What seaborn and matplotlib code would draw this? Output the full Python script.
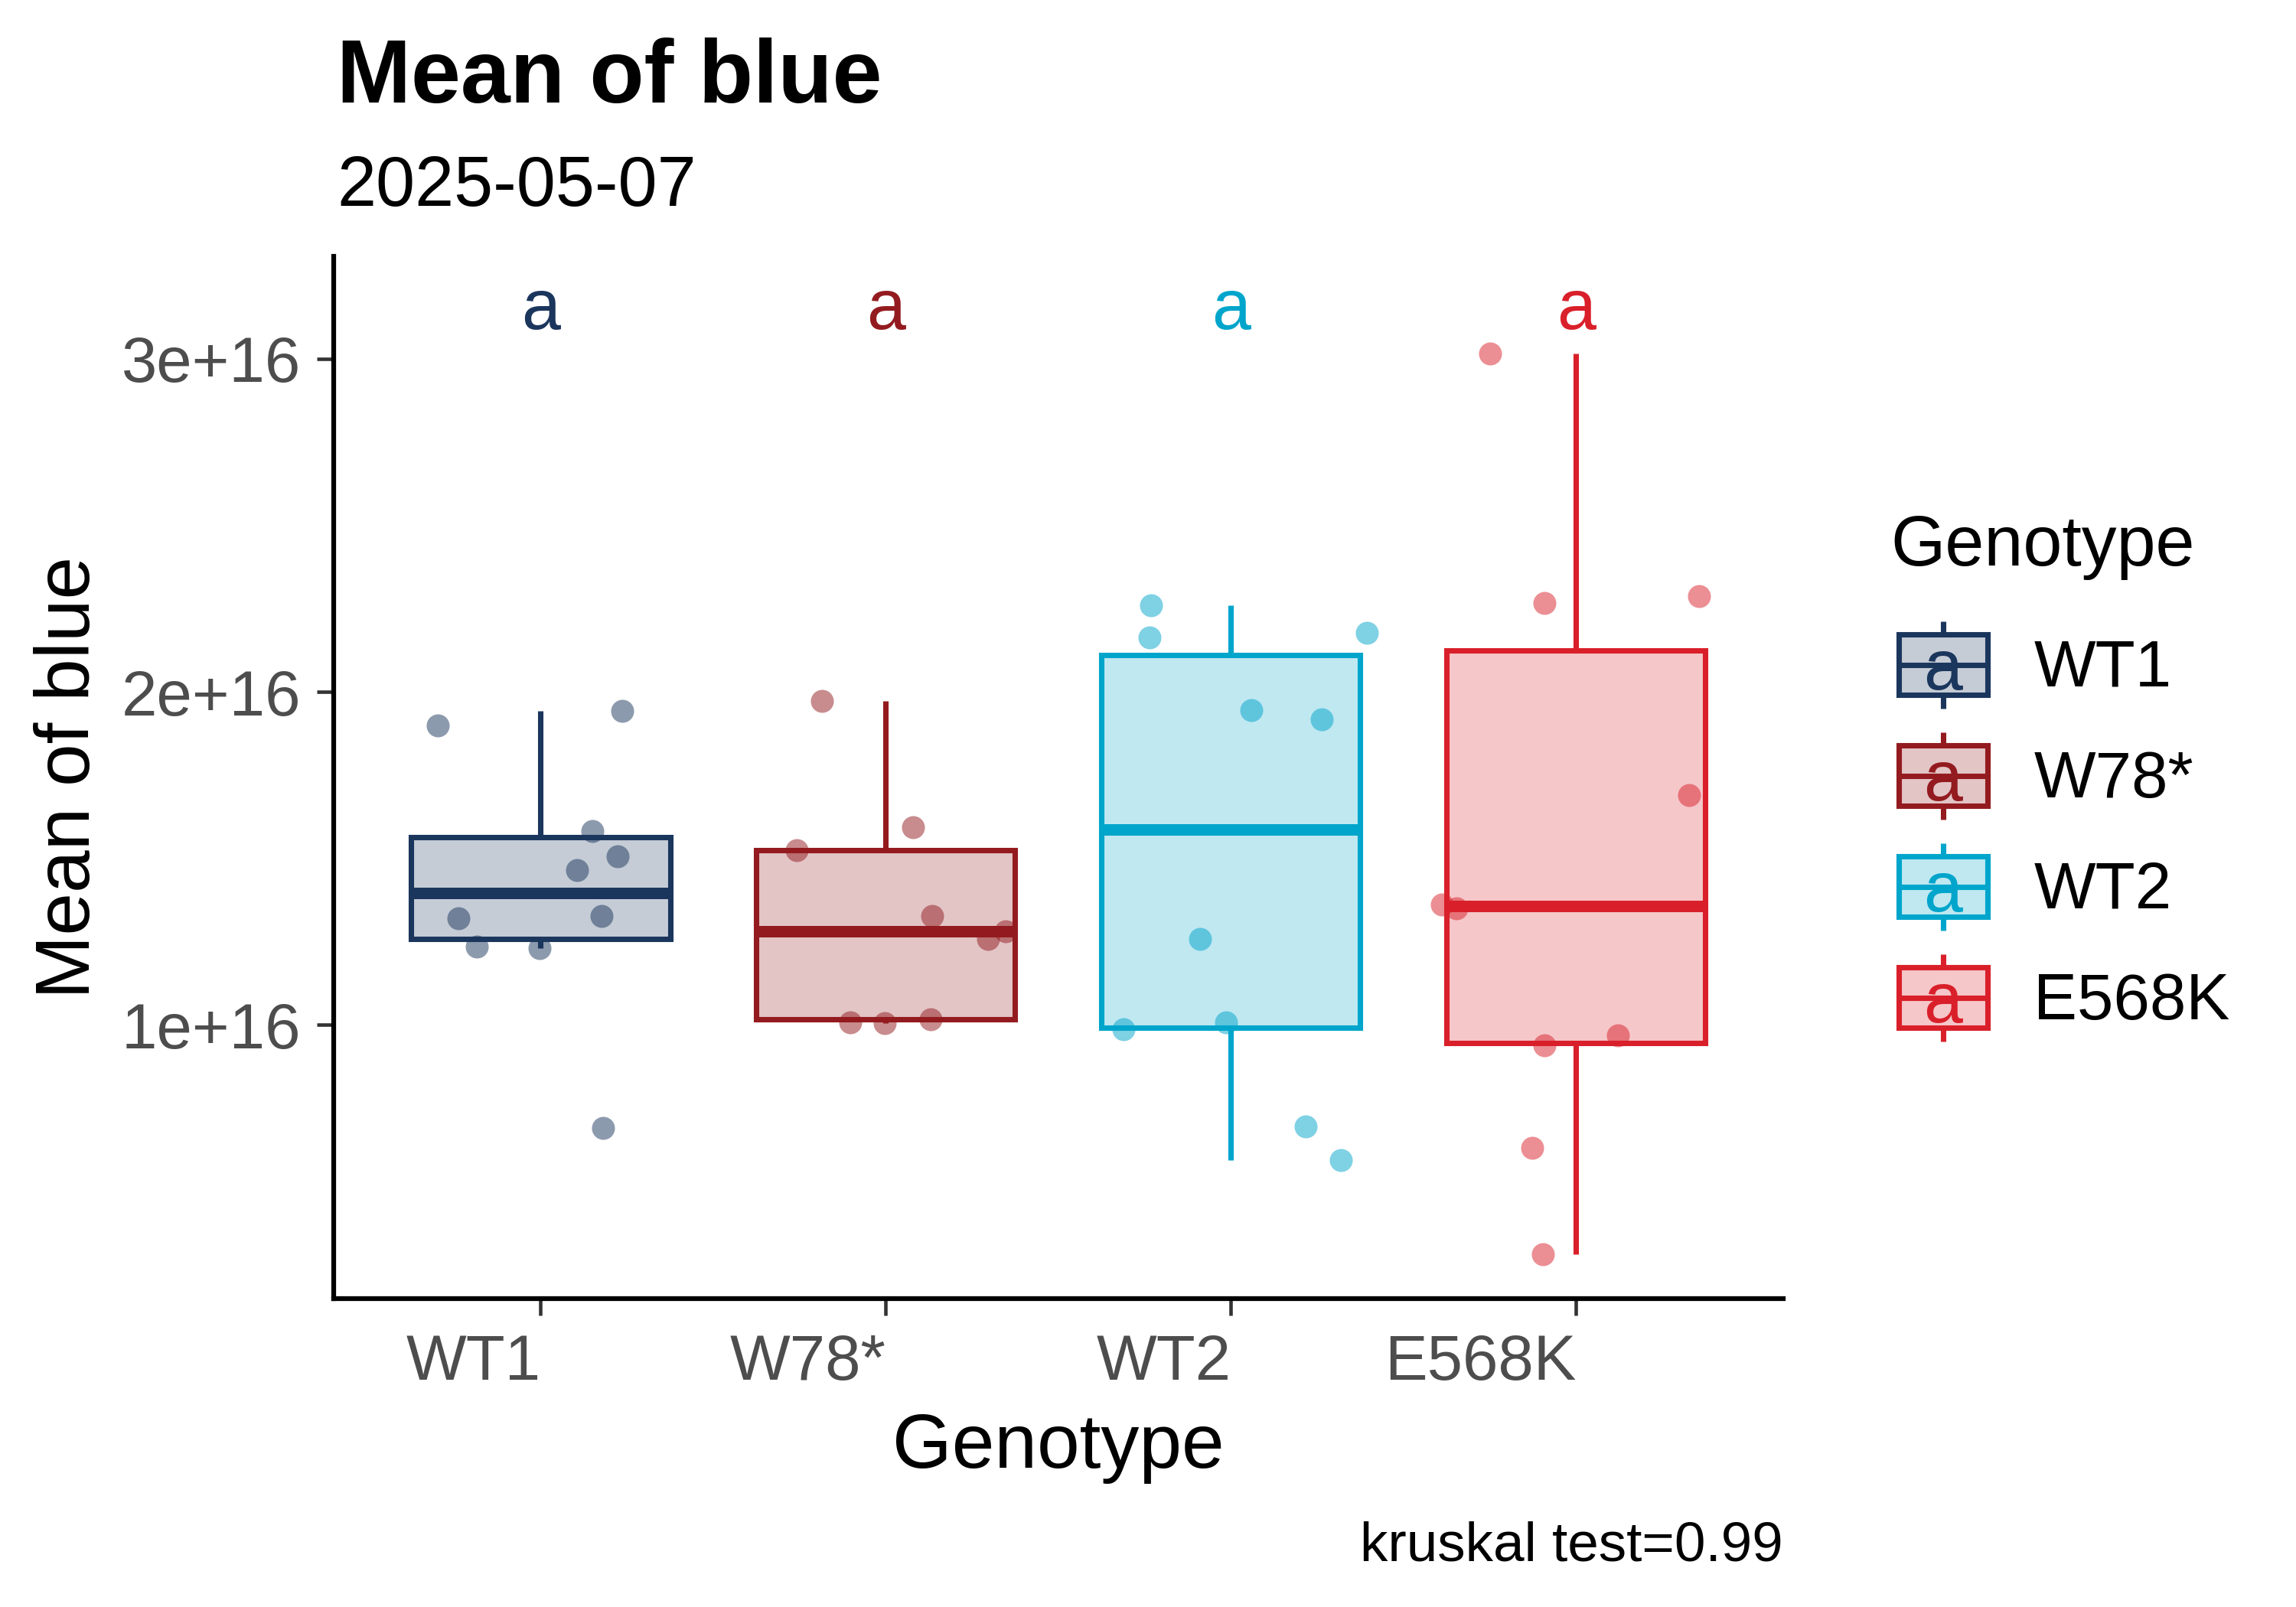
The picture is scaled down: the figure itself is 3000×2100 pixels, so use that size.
import numpy as np
import pandas as pd
import matplotlib
matplotlib.use("Agg")
import matplotlib.pyplot as plt
import seaborn as sns
from matplotlib.colors import to_rgba
from matplotlib.legend_handler import HandlerBase
from matplotlib.patches import Rectangle, Patch
from matplotlib.lines import Line2D
import matplotlib.text as mtext

# ---------------- data (values in units of 1e16) ----------------
genotypes = ["WT1", "W78*", "WT2", "E568K"]
colors = ["#1B365D", "#931B1F", "#00A5CB", "#D9202A"]

wt1_vals = [1.900, 1.942, 1.583, 1.506, 1.465, 1.320, 1.327, 1.236, 1.231, 0.691]
wt1_jit = [-0.299, 0.237, 0.150, 0.224, 0.105, -0.239, 0.176, -0.185, -0.004, 0.180]
w78_vals = [1.972, 1.594, 1.524, 1.327, 1.281, 1.257, 1.007, 1.006, 1.017]
w78_jit = [-0.186, 0.079, -0.259, 0.135, 0.347, 0.296, -0.102, -0.003, 0.129]
wt2_vals = [2.259, 2.164, 2.178, 1.946, 1.917, 1.257, 0.986, 1.008, 0.695, 0.595]
wt2_jit = [-0.231, -0.235, 0.394, 0.060, 0.264, -0.090, -0.312, -0.013, 0.217, 0.319]
e568k_vals = [3.017, 2.268, 2.287, 1.691, 1.362, 1.350, 0.939, 0.969, 0.631, 0.312]
e568k_jit = [-0.250, -0.092, 0.357, 0.328, -0.389, -0.347, -0.092, 0.122, -0.126, -0.095]

letters = ["a", "a", "a", "a"]
letter_y = 3.09  # 1e16 units
ytick_vals = [1, 2, 3]
ytick_labels = ["1e+16", "2e+16", "3e+16"]
scale = 1e16

title = "Mean of blue"
subtitle = "2025-05-07"
xlab = "Genotype"
ylab = "Mean of blue"
caption = "kruskal test=0.99"

# ---------------- build table ----------------
groups = [wt1_vals, w78_vals, wt2_vals, e568k_vals]
jits = [wt1_jit, w78_jit, wt2_jit, e568k_jit]
rows = []
for i, (g, vals, jit) in enumerate(zip(genotypes, groups, jits)):
    for v, j in zip(vals, jit):
        rows.append({"Genotype": g, "value": v * scale, "xpos": i + j})
df = pd.DataFrame(rows)
pal = dict(zip(genotypes, colors))

# ---------------- style ----------------
sns.set_theme(style="white")
plt.rcParams["font.family"] = ["Liberation Sans", "DejaVu Sans"]
plt.rcParams["text.color"] = "black"

fig = plt.figure(figsize=(10, 7), dpi=300)
ax = fig.add_axes([0.1453, 0.1919, 0.6313, 0.6486])

LW = 1.7
MLW = 3.6

# jittered points (under the boxes)
for g in genotypes:
    sub = df[df["Genotype"] == g]
    sns.scatterplot(x=sub["xpos"], y=sub["value"], color=pal[g], alpha=0.5,
                    s=52, linewidth=0, ax=ax, zorder=0.9, legend=False)

# boxplots one group at a time so each gets its own line colour
for g in genotypes:
    sub = df[df["Genotype"] == g]
    n_before = len(ax.patches)
    sns.boxplot(data=sub, x="Genotype", y="value", order=genotypes,
                color=pal[g], linecolor=pal[g], saturation=1, fill=True,
                width=0.75, showfliers=False, showcaps=False, whis=1.5,
                linewidth=LW, medianprops=dict(linewidth=MLW),
                ax=ax)
    for p in ax.patches[n_before:]:
        p.set_facecolor(to_rgba(pal[g], 0.25))
        p.set_edgecolor(pal[g])
        p.set_zorder(1)

# group letters
for i, (g, lt) in enumerate(zip(genotypes, letters)):
    ax.text(i, letter_y * scale, lt, color=pal[g], fontsize=22,
            ha="center", va="baseline")

ax.set_xlim(-0.6, 3.6)
ax.set_ylim(0.178 * scale, 3.308 * scale)
ax.set_yticks([v * scale for v in ytick_vals], labels=ytick_labels)
ax.set_xticks(range(len(genotypes)), labels=genotypes)
plt.setp(ax.get_xticklabels(), ha="right")

for s in ["top", "right"]:
    ax.spines[s].set_visible(False)
for s in ["left", "bottom"]:
    ax.spines[s].set_color("black")
    ax.spines[s].set_linewidth(1.5)
ax.tick_params(axis="both", which="major", length=5.3, width=1.1,
               color="#333333", labelcolor="#4D4D4D", labelsize=20, pad=5,
               left=True, bottom=True)
ax.tick_params(axis="x", pad=5.5)
ax.set_xlabel(xlab, fontsize=24, color="black", labelpad=6)
ax.set_ylabel(ylab, fontsize=24, color="black", labelpad=5)
ax.grid(False)

# titles and caption
fig.text(0.1467, 0.936, title, fontsize=28, fontweight="bold",
         ha="left", va="baseline", color="black")
fig.text(0.1467, 0.872, subtitle, fontsize=22, ha="left", va="baseline",
         color="black")
fig.text(0.7767, 0.029, caption, fontsize=17.5, ha="right", va="baseline",
         color="black")


# ---------------- legend ----------------
KEY_INDENT = 2.4  # points
class BoxKeyHandler(HandlerBase):
    def __init__(self, color, letter):
        super().__init__()
        self.color = color
        self.letter = letter

    def create_artists(self, legend, orig_handle, xdescent, ydescent,
                       width, height, fontsize, trans):
        x0, y0 = -xdescent + KEY_INDENT, -ydescent
        width = width - KEY_INDENT
        cx = x0 + width / 2
        bh = height * 0.69
        by = y0 + (height - bh) / 2
        rect = Rectangle((x0, by), width, bh,
                         facecolor=to_rgba(self.color, 0.25),
                         edgecolor=self.color, lw=LW, transform=trans)
        w1 = Line2D([cx, cx], [y0, by], color=self.color, lw=LW,
                    transform=trans, solid_capstyle="butt")
        w2 = Line2D([cx, cx], [by + bh, y0 + height], color=self.color,
                    lw=LW, transform=trans, solid_capstyle="butt")
        med = Line2D([x0, x0 + width], [y0 + height / 2] * 2,
                     color=self.color, lw=LW, transform=trans)
        txt = mtext.Text(cx, y0 + height / 2 - 2.0, self.letter,
                         color=self.color, fontsize=22, ha="center",
                         va="center", transform=trans,
                         fontfamily=["Liberation Sans", "DejaVu Sans"])
        return [rect, w1, w2, med, txt]


handles = [Patch(label=g) for g in genotypes]
hmap = {h: BoxKeyHandler(c, lt) for h, c, lt in zip(handles, colors, letters)}
fs_leg = 20.5
fs_px = fs_leg * 300 / 72
key_h = 114
hh = (key_h / fs_px - 0.245) / 0.65
leg = ax.legend(handles=handles, labels=genotypes, handler_map=hmap,
                title="Genotype", title_fontsize=22, fontsize=fs_leg,
                loc="upper left", bbox_to_anchor=(0.8235, 0.680),
                bbox_transform=fig.transFigure, frameon=False,
                borderpad=0, borderaxespad=0,
                handlelength=126 / fs_px, handleheight=hh,
                handletextpad=61 / fs_px, labelspacing=31 / fs_px,
                alignment="left")
leg._legend_box.sep = 12.9
leg.get_title().set_color("black")
for t in leg.get_texts():
    t.set_color("black")

fig.savefig("out.png", dpi=300, facecolor="white")
